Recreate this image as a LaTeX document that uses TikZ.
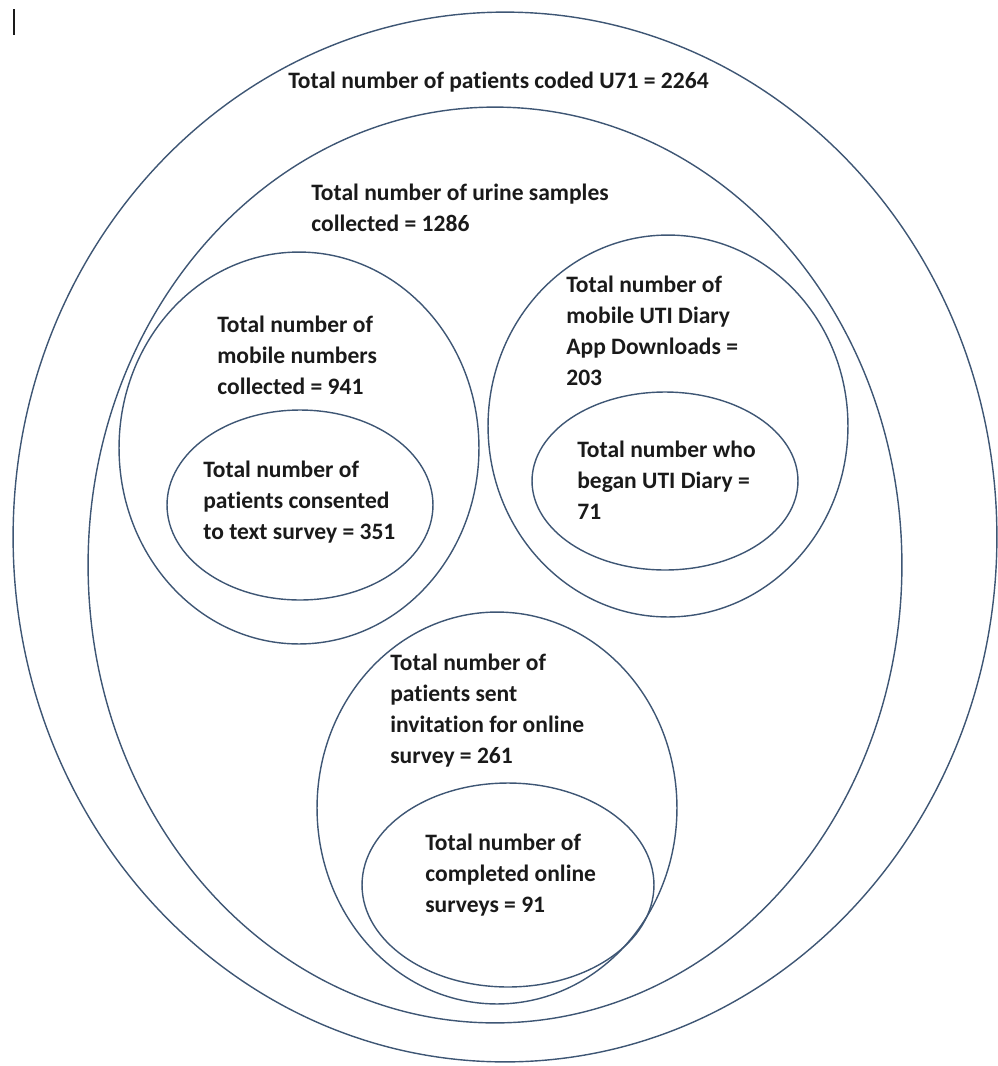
\documentclass[tikz,border=0pt]{standalone}
\usepackage{fontspec}
\setmainfont{Carlito}[Ligatures=NoCommon]
\usepackage{tikz}
\usetikzlibrary{shapes.geometric}

\definecolor{setline}{RGB}{62,86,116}
\definecolor{settext}{RGB}{26,26,26}

\begin{document}
\begin{tikzpicture}[x=0.02cm,y=-0.02cm,
  every set/.style={draw=setline,line width=0.8pt,ellipse,inner sep=0pt,outer sep=0pt},
  set/.style={every set,minimum width=#1},
  count/.style={anchor=north west,align=left,inner sep=0pt,text=settext,
    font=\fontsize{13.4}{17.6}\selectfont\bfseries}]
  \useasboundingbox (0,0) rectangle (998,1066);

  % sets
  \node[set=19.68cm,minimum height=21cm]   (coded)     at (505,537) {};
  \node[set=16.28cm,minimum height=18.32cm] (urine)    at (495,565) {};
  \node[set=7.2cm,minimum height=7.84cm]   (mobile)    at (299,448) {};
  \node[set=5.32cm,minimum height=3.8cm]   (consented) at (300,505) {};
  \node[set=7.2cm,minimum height=7.64cm]   (app)       at (668,426) {};
  \node[set=5.32cm,minimum height=3.56cm]  (began)     at (665,481) {};
  \node[set=7.2cm,minimum height=7.84cm]   (invited)   at (497,808) {};
  \node[set=5.84cm,minimum height=4.08cm]  (completed) at (508,885) {};

  % counts
  \node[count] (codedtxt)     at (288,72)  {Total number of patients coded U71 = 2264};
  \node[count] (urinetxt)     at (311,184) {Total number of urine samples\\collected = 1286};
  \node[count] (mobiletxt)    at (217,316) {Total number of\\mobile numbers\\collected = 941};
  \node[count] (consentedtxt) at (203,461) {Total number of\\patients consented\\to text survey = 351};
  \node[count] (apptxt)       at (566,276) {Total number of\\mobile UTI Diary\\App Downloads =\\203};
  \node[count] (begantxt)     at (577,441) {Total number who\\began UTI Diary =\\71};
  \node[count] (invitedtxt)   at (390,654) {Total number of\\patients sent\\invitation for online\\survey = 261};
  \node[count] (completedtxt) at (425,834) {Total number of\\completed online\\surveys = 91};

  % cursor
  \draw[settext,line width=1pt] (14,9) -- (14,35);
\end{tikzpicture}
\end{document}
